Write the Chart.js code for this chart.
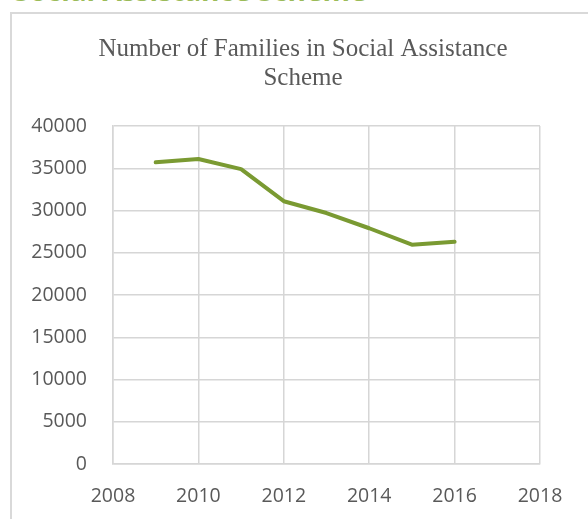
<!DOCTYPE html>
<html>
<head>
<meta charset="utf-8">
<script src="https://cdn.jsdelivr.net/npm/chart.js@4/dist/chart.umd.min.js"></script>
<style>
  html, body { margin: 0; padding: 0; background: #fff; overflow: hidden; width: 588px; height: 519px; }
  .heading {
    position: absolute; left: 14px; top: -24px;
    font: bold 28px "Open Sans", sans-serif; line-height: 28px;
    color: #9bbb59; white-space: nowrap;
  }
  .frame {
    position: absolute; left: 10px; top: 12px; width: 640px; height: 560px;
    border: 2px solid #d9d9d9; background: #fff;
  }
  #report { position: absolute; left: 0; top: 0; }
</style>
</head>
<body>
<div class="heading">Social Assistance Scheme</div>
<div class="frame"></div>
<canvas id="report" width="606" height="519"></canvas>
<script>
const years = [2009, 2010, 2011, 2012, 2013, 2014, 2015, 2016];
const families = [35700, 36100, 34900, 31100, 29700, 27900, 25950, 26300];
const titleLines = ["Number of Families in Social Assistance", "Scheme"];

const GRID = '#d6d6d6';
const TEXT = '#595959';

const CHART = document.getElementById("report");
var lineChart = new Chart(CHART, {
    type: 'line',
    data: {
        datasets: [
            {
                label: 'Families',
                data: years.map((y, i) => ({ x: y, y: families[i] })),
                borderColor: '#7a9a32',
                borderWidth: 4,
                borderCapStyle: 'round',
                borderJoinStyle: 'round',
                fill: false,
                pointRadius: 0,
                tension: 0
            }
        ]
    },
    options: {
        responsive: false,
        animation: false,
        layout: { padding: 0 },
        plugins: {
            legend: { display: false },
            tooltip: { enabled: false },
            title: {
                display: true,
                text: titleLines,
                color: TEXT,
                font: { family: '"Liberation Serif", serif', size: 25, weight: 'normal', lineHeight: 29 / 25 },
                padding: { top: 35, bottom: 33 }
            }
        },
        scales: {
            x: {
                type: 'linear',
                min: 2008,
                max: 2018,
                afterFit: function (scale) {
                    scale.height = 55;
                    scale.paddingRight = 66;
                },
                ticks: {
                    stepSize: 2,
                    color: TEXT,
                    padding: 21,
                    font: { family: '"Open Sans", sans-serif', size: 19.5 },
                    callback: v => String(v)
                },
                grid: { color: GRID, lineWidth: 1.5, drawTicks: false },
                border: { color: GRID, width: 1.5 }
            },
            y: {
                min: 0,
                max: 40000,
                afterFit: function (scale) {
                    scale.width = 113;
                },
                ticks: {
                    stepSize: 5000,
                    color: TEXT,
                    padding: 26,
                    font: { family: '"Open Sans", sans-serif', size: 19.5 },
                    callback: v => String(v)
                },
                grid: { color: GRID, lineWidth: 1.5, drawTicks: false },
                border: { color: GRID, width: 1.5 }
            }
        }
    }
});
</script>
</body>
</html>
